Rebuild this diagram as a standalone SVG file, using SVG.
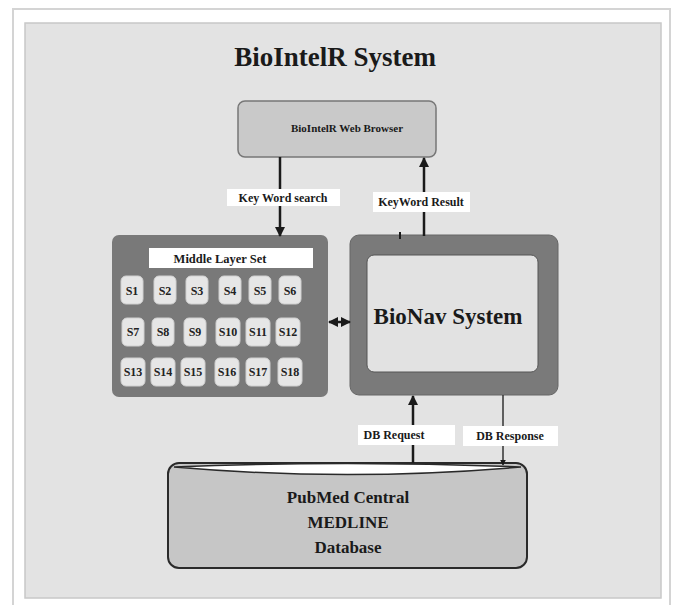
<svg xmlns="http://www.w3.org/2000/svg" width="678" height="605" viewBox="0 0 678 605">
<style>
text{font-family:'Liberation Serif','DejaVu Serif','Times New Roman',serif;font-weight:bold}
.t{fill:#1a1a1a}
.lbl{fill:#ffffff}
.conn{stroke:#1a1a1a;stroke-width:2.5;fill:none}
.s{fill:#e6e6e6;stroke:#d0d0d0;stroke-width:1}
.st{font-size:12px;fill:#222;text-anchor:middle}
</style>
<defs>
<marker id="ah" viewBox="0 0 10 10" refX="9" refY="5" markerWidth="4" markerHeight="4" orient="auto-start-reverse">
<path d="M0,0 L10,5 L0,10 z" fill="#1a1a1a"/>
</marker>
</defs>
<rect x="0" y="0" width="678" height="605" fill="#ffffff"/>
<rect x="13" y="9" width="657" height="600" fill="none" stroke="#d4d4d4" stroke-width="2"/>
<rect x="25" y="23" width="636" height="575" fill="#e3e3e3" stroke="#c8c8c8" stroke-width="1.5"/>
<text class="t" x="335" y="66" font-size="27" text-anchor="middle" font-family="Liberation Serif, serif">BioIntelR System</text>

<g id="web-browser">
<rect x="238" y="101" width="198" height="56" rx="7" fill="#c9c9c9" stroke="#777" stroke-width="1.5"/>
<text class="t" x="347" y="132" font-size="11" text-anchor="middle">BioIntelR Web Browser</text>
</g>

<g id="middle-layer">
<rect x="112" y="235" width="216" height="162" rx="7" fill="#797979"/>
<rect x="149" y="248" width="164" height="20" fill="#ffffff"/>
<text class="t" x="220" y="263" font-size="12.5" text-anchor="middle">Middle Layer Set</text>
<g>
<rect class="s" x="121" y="276" width="22" height="28" rx="5"/><text class="st" x="132" y="295">S1</text>
<rect class="s" x="154" y="276" width="22" height="28" rx="5"/><text class="st" x="165" y="295">S2</text>
<rect class="s" x="186" y="276" width="22" height="28" rx="5"/><text class="st" x="197" y="295">S3</text>
<rect class="s" x="219" y="276" width="22" height="28" rx="5"/><text class="st" x="230" y="295">S4</text>
<rect class="s" x="249" y="276" width="22" height="28" rx="5"/><text class="st" x="260" y="295">S5</text>
<rect class="s" x="279" y="276" width="22" height="28" rx="5"/><text class="st" x="290" y="295">S6</text>
<rect class="s" x="122" y="318" width="22" height="28" rx="5"/><text class="st" x="133" y="336">S7</text>
<rect class="s" x="152" y="318" width="22" height="28" rx="5"/><text class="st" x="163" y="336">S8</text>
<rect class="s" x="184" y="318" width="22" height="28" rx="5"/><text class="st" x="195" y="336">S9</text>
<rect class="s" x="216" y="318" width="24" height="28" rx="5"/><text class="st" x="228" y="336">S10</text>
<rect class="s" x="246" y="318" width="24" height="28" rx="5"/><text class="st" x="258" y="336">S11</text>
<rect class="s" x="276" y="318" width="24" height="28" rx="5"/><text class="st" x="288" y="336">S12</text>
<rect class="s" x="121" y="358" width="24" height="28" rx="5"/><text class="st" x="133" y="376">S13</text>
<rect class="s" x="151" y="358" width="24" height="28" rx="5"/><text class="st" x="163" y="376">S14</text>
<rect class="s" x="181" y="358" width="24" height="28" rx="5"/><text class="st" x="193" y="376">S15</text>
<rect class="s" x="215" y="358" width="24" height="28" rx="5"/><text class="st" x="227" y="376">S16</text>
<rect class="s" x="246" y="358" width="24" height="28" rx="5"/><text class="st" x="258" y="376">S17</text>
<rect class="s" x="278" y="358" width="24" height="28" rx="5"/><text class="st" x="290" y="376">S18</text>
</g>
</g>

<g id="bionav">
<rect x="350" y="235" width="208" height="160" rx="9" fill="#7a7a7a" stroke="#666" stroke-width="1"/>
<rect x="367" y="255" width="171" height="117" rx="7" fill="#e2e2e2" stroke="#555" stroke-width="1"/>
<text class="t" x="448" y="324" font-size="23" text-anchor="middle">BioNav System</text>
</g>

<g id="database">
<rect x="168" y="463" width="359" height="105" rx="11" fill="#c6c6c6" stroke="#2a2a2a" stroke-width="2"/>
<path d="M174,467 Q347,460 521,467 Q347,482 174,467 z" fill="#ffffff" stroke="#2a2a2a" stroke-width="1.5"/>
<text class="t" x="348" y="503" font-size="17" text-anchor="middle">PubMed Central</text>
<text class="t" x="348" y="528" font-size="17" text-anchor="middle">MEDLINE</text>
<text class="t" x="348" y="553" font-size="17" text-anchor="middle">Database</text>
</g>

<g id="connectors">
<line class="conn" x1="280" y1="157" x2="280" y2="236" marker-end="url(#ah)"/>
<line class="conn" x1="424" y1="236" x2="424" y2="158" marker-end="url(#ah)"/>
<line class="conn" x1="329" y1="322" x2="350" y2="322" marker-start="url(#ah)" marker-end="url(#ah)"/>
<line class="conn" x1="413" y1="463" x2="413" y2="396" marker-end="url(#ah)"/>
<line x1="503" y1="395" x2="503" y2="465" stroke="#333" stroke-width="1.5" marker-end="url(#ah)"/>
<line x1="400" y1="232" x2="400" y2="239" stroke="#1a1a1a" stroke-width="2"/>
<rect class="lbl" x="227" y="189" width="113" height="17"/>
<text class="t" x="283" y="202" font-size="12" text-anchor="middle">Key Word search</text>
<rect class="lbl" x="373" y="192" width="97" height="20"/>
<text class="t" x="421" y="206" font-size="12" text-anchor="middle">KeyWord Result</text>
<rect class="lbl" x="358" y="425" width="97" height="20"/>
<text class="t" x="394" y="439" font-size="12" text-anchor="middle">DB Request</text>
<rect class="lbl" x="463" y="426" width="95" height="20"/>
<text class="t" x="510" y="440" font-size="12" text-anchor="middle">DB Response</text>
</g>
</svg>
